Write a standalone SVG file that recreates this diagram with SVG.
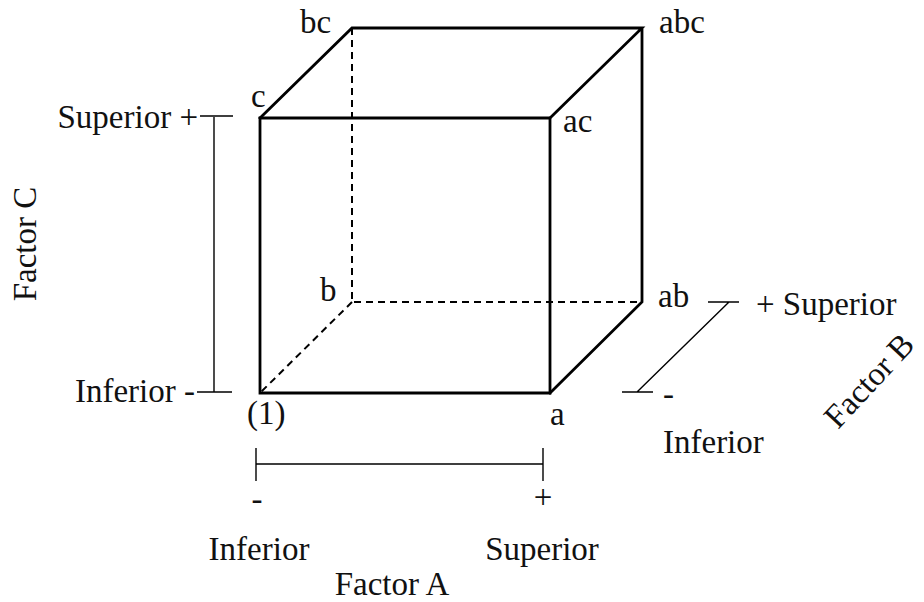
<svg xmlns="http://www.w3.org/2000/svg" width="924" height="602" viewBox="0 0 924 602">
<style>
text{font-family:"Liberation Serif","Times New Roman",serif;font-size:33px;fill:#111}
.solid{stroke:#000;stroke-width:2.8;fill:none;stroke-linecap:square;stroke-linejoin:miter}
.dash{stroke:#000;stroke-width:2;fill:none;stroke-dasharray:7 5}
.axis{stroke:#000;stroke-width:1.4;fill:none}
</style>
<rect width="924" height="602" fill="#fff"/>
<g id="connectors">
  <g id="cube-edges">
    <path class="solid" d="M260 118 H550 V393 H260 Z"/>
    <path class="solid" d="M260 118 L352 28 H642 L550 118 M642 28 V302 L550 393"/>
    <path class="dash" d="M352 28 V302 H642 M352 302 L260 393"/>
  </g>
  <g id="axis-c">
    <path class="axis" d="M200 116 H233 M214 117 V392 M197 392 H232"/>
  </g>
  <g id="axis-b">
    <path class="axis" d="M708 302 H739 M729 302 L637 392 M622 392 H653"/>
  </g>
  <g id="axis-a">
    <path class="axis" d="M256 464 H543 M256 448 V481 M543 448 V481"/>
  </g>
</g>
<g id="node-1"><text x="247" y="424" font-size="30">(1)</text></g>
<g id="node-a"><text x="550" y="425">a</text></g>
<g id="node-b"><text x="320" y="301">b</text></g>
<g id="node-ab"><text x="658" y="307">ab</text></g>
<g id="node-c"><text x="251" y="107">c</text></g>
<g id="node-ac"><text x="563" y="132">ac</text></g>
<g id="node-bc"><text x="300" y="33">bc</text></g>
<g id="node-abc"><text x="659" y="33">abc</text></g>
<g id="label-factor-c">
  <text x="198" y="128" text-anchor="end">Superior +</text>
  <text x="195" y="402" text-anchor="end">Inferior -</text>
  <text transform="translate(36 244) rotate(-90)" text-anchor="middle">Factor C</text>
</g>
<g id="label-factor-b">
  <text x="756" y="315">+ Superior</text>
  <text x="663" y="405">-</text>
  <text x="663" y="453">Inferior</text>
  <text transform="translate(877 388) rotate(-47)" text-anchor="middle" font-size="32">Factor B</text>
</g>
<g id="label-factor-a">
  <text x="257" y="510" text-anchor="middle">-</text>
  <text x="543" y="508" text-anchor="middle">+</text>
  <text x="259" y="560" text-anchor="middle">Inferior</text>
  <text x="542" y="560" text-anchor="middle">Superior</text>
  <text x="392" y="595" text-anchor="middle">Factor A</text>
</g>
</svg>
